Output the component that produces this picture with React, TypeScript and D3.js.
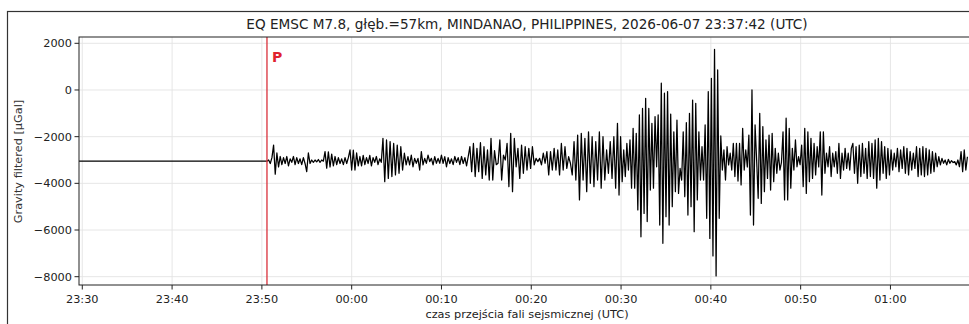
import { useEffect, useRef } from 'react'
import * as d3 from 'd3'

const TITLE = 'EQ EMSC M7.8, głęb.=57km, MINDANAO, PHILIPPINES, 2026-06-07 23:37:42 (UTC)'
const X_LABEL = 'czas przejścia fali sejsmicznej (UTC)'
const Y_LABEL = 'Gravity filtered [µGal]'

// axis limits
const X_START = '23:29:38'
const X_END = '01:09:25'
const Y_MIN = -8356
const Y_MAX = 2270
const Y_TICKS = [-8000, -6000, -4000, -2000, 0, 2000]

const P_ARRIVAL = '23:50:34'

// flat trace before the P wave
const preEventTimes = ['23:29:38', '23:50:34']
const preEventValues = [-3050, -3050]

// trace after the P wave, read as successive peaks/troughs,
// each block spread evenly between two boundary times
const segmentBounds = [
  '23:50:34', '23:54:15', '23:57:02', '23:59:49', '00:03:29', '00:06:16',
  '00:13:10', '00:16:18', '00:29:36', '00:42:51', '00:55:49', '01:08:45',
]

const seg01 = [-3050, -3000, -3150, -2900, -2360, -3610, -2700, -3300, -2850, -3200,
  -2900, -3150, -2850, -3250, -2950, -3100, -2850, -3200, -2900, -3150]
const seg02 = [-2950, -3200, -2900, -3150, -3500, -2700, -3150, -3000, -3100, -3000,
  -3080, -2980, -3100, -3000, -3050]
const seg03 = [-2640, -3350, -2650, -3300, -2750, -3250, -2850, -3200, -2900, -3150,
  -2950, -3200, -2900, -3150, -2900]
const seg04 = [-2570, -3430, -2580, -3430, -2700, -3250, -2850, -3250, -2800, -3200,
  -2900, -3150, -2800, -3250, -2900, -3100, -2850, -3200, -2950, -3100]
const seg05 = [-2070, -3930, -2140, -3790, -2210, -3710, -2290, -3640, -2360, -3570,
  -2430, -3430, -2710, -3210]
const seg06 = [-2860, -3210, -2790, -3290, -2930, -3140, -2930, -3430, -2640, -3210,
  -2930, -3140, -2790, -3070, -2930, -3210, -2860, -3140, -2930, -3140,
  -2790, -3140, -2860, -3290, -2900, -3150, -2950, -3200, -2850, -3100,
  -2900, -3200, -2850, -3150, -2900, -3250, -2850]
const seg07 = [-2430, -3500, -2290, -3710, -2500, -3500, -2260, -3790, -2430, -3640,
  -2570, -3860, -2070, -3860, -2600, -3200]
const seg08 = [-3140, -2140, -3860, -2790, -3000, -2290, -4140, -1860, -4360, -2070,
  -3290, -2500, -3790, -2360, -3570, -2430, -3430, -2500, -3360, -2430,
  -3210, -2930, -3070, -2930, -3210, -2710, -3140, -2640, -3640, -2640,
  -3430, -2500, -3430, -2570, -3640, -2290, -3430, -2430, -3360, -2860,
  -3140, -3640, -2210, -3860, -1930, -4710, -1860, -3860, -2070, -4360,
  -1790, -4000, -2000, -4140, -2210, -3860, -1790, -4210, -2000, -3860,
  -2570, -3570, -2210, -3790, -2000, -4210]
const seg09 = [-1430, -4500, -2000, -3930, -2570, -3710, -2290, -3430, -2140, -4210,
  -1640, -4210, -1860, -5140, -1070, -6290, -790, -5290, -360, -5640,
  -790, -4290, -1430, -4210, -1140, -3290, -1070, -5790, 290, -6570,
  -140, -5430, -70, -5790, -1030, -5000, -1790, -4360, -1290, -4430,
  -3360, -3860, -1790, -4570, -1400, -5360, -1000, -5000, -430, -6070,
  -570, -4710, -1790, -3860, -2430, -3860, -1500, -5500, -70, -6360,
  500, -7110, 1740, -7970, 860, -5500, -1970, -3430, -2570, -3860,
  -2430, -3210, -2710, -3430, -2290, -3710]
const seg10 = [-2290, -3900, -2290, -4070, -1640, -3430, -2570, -3300, -1930, -5360,
  0, -5790, -1500, -3000, -4640, -1000, -4860, -1570, -4360, -2140,
  -3790, -1930, -4290, -1860, -3930, -2500, -3570, -2710, -3430, -3100,
  -1790, -4710, -1210, -4710, -1640, -4210, -2500, -3430, -2140, -3290,
  -2860, -3200, -2360, -4140, -1640, -4430, -1790, -3930, -2070, -3790,
  -2290, -3640, -2430, -3300, -1790, -4500, -1790, -3570, -2710, -3290,
  -2430, -3710, -2710, -3290, -2640, -3570, -2290, -3790, -2710, -3430,
  -2500, -3360, -2710, -3430, -2500]
const seg11 = [-2290, -3570, -2430, -4000, -2360, -3710, -2290, -3570, -2500, -3790,
  -2210, -3710, -2290, -3790, -2140, -4210, -2070, -3860, -2210, -3570,
  -2430, -3790, -2500, -3640, -2570, -3430, -2710, -3290, -2500, -3500,
  -2570, -3360, -2430, -3570, -2500, -3640, -2640, -3430, -2710, -3360,
  -2430, -3710, -2500, -3640, -2430, -3710, -2500, -3640, -2570, -3570,
  -2640, -3500, -2710, -3290, -2860, -3210, -2930, -3140, -3000, -3210,
  -2970, -3140, -3030, -3110, -3070, -3210, -3000, -3290, -2640, -3500,
  -2570, -3430, -2860]

const segments = [seg01, seg02, seg03, seg04, seg05, seg06, seg07, seg08, seg09, seg10, seg11]

const WIDTH = 969
const HEIGHT = 324
const AX_LEFT = 79
const AX_RIGHT = 975
const AX_TOP = 37
const AX_BOTTOM = 285
const FONT = '"DejaVu Sans", sans-serif'

// times after midnight belong to the next day
const toDate = (s: string) => {
  const [h, m, sec] = s.split(':').map(Number)
  return new Date(Date.UTC(2026, 5, h < 12 ? 8 : 7, h, m, sec))
}

const App = () => {
  const svgRef = useRef<SVGSVGElement>(null)

  useEffect(() => {
    if (!svgRef.current) return
    const svg = d3.select(svgRef.current)
    svg.selectAll('*').remove()

    const x = d3.scaleUtc().domain([toDate(X_START), toDate(X_END)]).range([AX_LEFT, AX_RIGHT])
    const y = d3.scaleLinear().domain([Y_MIN, Y_MAX]).range([AX_BOTTOM, AX_TOP])

    // build the trace
    const points: [Date, number][] = preEventTimes.map((t, i) => [toDate(t), preEventValues[i]])
    segments.forEach((vals, k) => {
      const t0 = toDate(segmentBounds[k]).getTime()
      const t1 = toDate(segmentBounds[k + 1]).getTime()
      vals.forEach((v, j) => {
        points.push([new Date(t0 + (j * (t1 - t0)) / vals.length), v])
      })
    })

    svg.append('rect').attr('width', WIDTH).attr('height', HEIGHT).attr('fill', '#fff')

    // outer frame
    svg.append('rect')
      .attr('x', 7.5).attr('y', 11.5)
      .attr('width', 1000).attr('height', 400)
      .attr('fill', 'none').attr('stroke', '#333').attr('stroke-width', 1.2)

    svg.append('defs').append('clipPath').attr('id', 'plot-clip')
      .append('rect')
      .attr('x', AX_LEFT).attr('y', AX_TOP)
      .attr('width', AX_RIGHT - AX_LEFT).attr('height', AX_BOTTOM - AX_TOP)

    const xTicks = x.ticks(d3.utcMinute.every(10)!)
      .filter(d => d >= toDate('23:30:00') && d <= toDate('01:00:00'))

    // grid
    const grid = svg.append('g').attr('stroke', '#e3e3e3').attr('stroke-width', 0.9)
    xTicks.forEach(d => {
      grid.append('line')
        .attr('x1', x(d)).attr('x2', x(d))
        .attr('y1', AX_TOP).attr('y2', AX_BOTTOM)
    })
    Y_TICKS.forEach(v => {
      grid.append('line')
        .attr('x1', AX_LEFT).attr('x2', AX_RIGHT)
        .attr('y1', y(v)).attr('y2', y(v))
    })

    // trace
    const line = d3.line<[Date, number]>()
      .x(d => x(d[0]))
      .y(d => y(d[1]))
    svg.append('path')
      .attr('clip-path', 'url(#plot-clip)')
      .attr('d', line(points) || '')
      .attr('fill', 'none')
      .attr('stroke', '#000')
      .attr('stroke-width', 1.25)
      .attr('stroke-linejoin', 'round')

    // P arrival
    const px = x(toDate(P_ARRIVAL))
    svg.append('line')
      .attr('x1', px).attr('x2', px)
      .attr('y1', AX_TOP).attr('y2', AX_BOTTOM)
      .attr('stroke', '#d9303a').attr('stroke-width', 1.3)
    svg.append('text')
      .attr('x', px + 5).attr('y', 62)
      .attr('font-family', FONT).attr('font-size', 14).attr('font-weight', 'bold')
      .attr('fill', '#e0222e')
      .text('P')

    // spines
    svg.append('rect')
      .attr('x', AX_LEFT).attr('y', AX_TOP)
      .attr('width', AX_RIGHT - AX_LEFT).attr('height', AX_BOTTOM - AX_TOP)
      .attr('fill', 'none').attr('stroke', '#222').attr('stroke-width', 1)

    // x axis
    const fmt = d3.utcFormat('%H:%M')
    const xAxis = svg.append('g').attr('font-family', FONT).attr('font-size', 11.3).attr('fill', '#222')
    xTicks.forEach(d => {
      xAxis.append('line')
        .attr('x1', x(d)).attr('x2', x(d))
        .attr('y1', AX_BOTTOM).attr('y2', AX_BOTTOM + 4.5)
        .attr('stroke', '#222').attr('stroke-width', 1)
      xAxis.append('text')
        .attr('x', x(d)).attr('y', 302.5)
        .attr('text-anchor', 'middle')
        .text(fmt(d))
    })

    // y axis
    const yAxis = svg.append('g').attr('font-family', FONT).attr('font-size', 11.3).attr('fill', '#222')
    Y_TICKS.forEach(v => {
      yAxis.append('line')
        .attr('x1', AX_LEFT - 4.5).attr('x2', AX_LEFT)
        .attr('y1', y(v)).attr('y2', y(v))
        .attr('stroke', '#222').attr('stroke-width', 1)
      yAxis.append('text')
        .attr('x', AX_LEFT - 7).attr('y', y(v))
        .attr('dy', '0.35em')
        .attr('text-anchor', 'end')
        .text(v < 0 ? `\u2212${Math.abs(v)}` : `${v}`)
    })

    // labels
    svg.append('text')
      .attr('x', (AX_LEFT + AX_RIGHT) / 2).attr('y', 29)
      .attr('text-anchor', 'middle')
      .attr('font-family', FONT).attr('font-size', 13.6).attr('fill', '#222')
      .text(TITLE)
    svg.append('text')
      .attr('x', (AX_LEFT + AX_RIGHT) / 2).attr('y', 318)
      .attr('text-anchor', 'middle')
      .attr('font-family', FONT).attr('font-size', 11.3).attr('fill', '#222')
      .text(X_LABEL)
    svg.append('text')
      .attr('transform', `translate(22, ${(AX_TOP + AX_BOTTOM) / 2 + 0.5}) rotate(-90)`)
      .attr('text-anchor', 'middle')
      .attr('font-family', FONT).attr('font-size', 11.3).attr('fill', '#333')
      .text(Y_LABEL)
  }, [])

  return (
    <svg
      ref={svgRef}
      width={WIDTH}
      height={HEIGHT}
      style={{ position: 'absolute', left: 0, top: 0 }}
    />
  )
}

export default App
